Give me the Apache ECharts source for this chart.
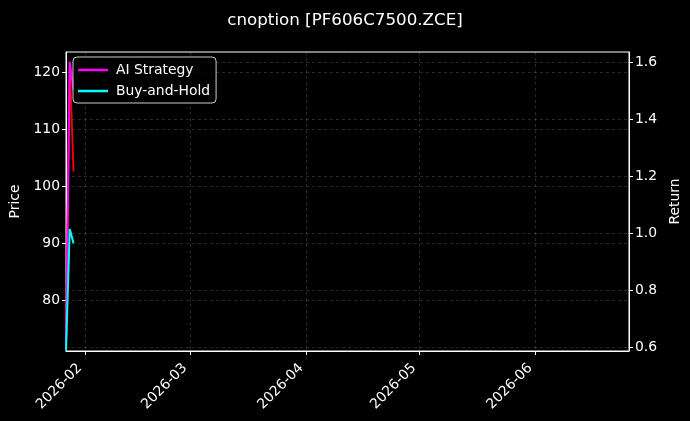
<!DOCTYPE html>
<html>
<head>
<meta charset="utf-8">
<script src="https://cdn.jsdelivr.net/npm/echarts@6/dist/echarts.min.js"></script>
<style>
html,body{margin:0;padding:0;background:#000;}
#c{width:690px;height:421px;}
</style>
</head>
<body>
<div id="c"></div>
<script>
// ---- data ----
const dates = ['2026-01-27', '2026-01-28', '2026-01-29'];
const price = [74.0, 121.8, 102.6];
const aiStrategy = [0.59, 1.60, 1.50];
const buyHold = [0.59, 1.015, 0.965];
const monthTickDates = ['2026-02-01', '2026-03-01', '2026-04-01', '2026-05-01', '2026-06-01'];
const monthTickLabels = ['2026-02', '2026-03', '2026-04', '2026-05', '2026-06'];
const priceTicks = [80, 90, 100, 110, 120];
const returnTicks = [0.6, 0.8, 1.0, 1.2, 1.4, 1.6];

function ts(s) { const p = s.split('-').map(Number); return Date.UTC(p[0], p[1] - 1, p[2]); }
const monthTickTs = monthTickDates.map(ts);
const labelMap = {};
monthTickTs.forEach((t, i) => { labelMap[t] = monthTickLabels[i]; });

const FONT = 'DejaVu Sans';
const chart = echarts.init(document.getElementById('c'), null, { renderer: 'canvas' });
const gridLine = { show: true, lineStyle: { color: 'rgba(255,255,255,0.2)', type: [3, 3], width: 0.8 } };

chart.setOption({
  backgroundColor: '#000',
  animation: false,
  title: {
    text: 'cnoption [PF606C7500.ZCE]',
    left: 'center', top: 7,
    textStyle: { color: '#fff', fontFamily: FONT, fontSize: 16.7, fontWeight: 'normal' }
  },
  grid: { left: 66, right: 61, top: 52, bottom: 70, show: true, borderColor: '#fff', borderWidth: 1, backgroundColor: 'transparent' },
  legend: {
    left: 73, top: 57, orient: 'vertical',
    data: ['AI Strategy', 'Buy-and-Hold'],
    icon: 'rect', itemWidth: 30, itemHeight: 2.5, itemGap: 7,
    padding: [6, 6, 5, 5],
    borderColor: '#ccc', borderWidth: 1, borderRadius: 4,
    backgroundColor: 'rgba(0,0,0,0.8)',
    textStyle: { color: '#fff', fontFamily: FONT, fontSize: 13.9, padding: [0, 0, 0, 3] }
  },
  xAxis: {
    type: 'value',
    min: ts('2026-01-27'), max: ts('2026-06-26'),
    axisLine: { show: true, lineStyle: { color: '#fff', width: 1 } },
    axisTick: { show: true, customValues: monthTickTs, length: 4, inside: false, lineStyle: { color: '#fff' } },
    axisLabel: {
      customValues: monthTickTs, rotate: 45, color: '#fff', fontFamily: FONT, fontSize: 13.9, margin: 10,
      padding: [0, 7, 0, 0],
      formatter: v => labelMap[v] || ''
    },
    splitLine: gridLine
  },
  yAxis: [
    {
      type: 'value', position: 'left', min: 71.2, max: 123.5,
      name: 'Price', nameLocation: 'middle', nameGap: 41,
      nameTextStyle: { color: '#fff', fontFamily: FONT, fontSize: 13.9 },
      axisLine: { show: true, lineStyle: { color: '#fff' } },
      axisTick: { show: true, customValues: priceTicks, length: 4, lineStyle: { color: '#fff' } },
      axisLabel: { customValues: priceTicks, color: '#fff', fontFamily: FONT, fontSize: 13.9, margin: 6 },
      splitLine: gridLine
    },
    {
      type: 'value', position: 'right', min: 0.588, max: 1.635,
      name: 'Return', nameLocation: 'middle', nameGap: 37,
      nameTextStyle: { color: '#fff', fontFamily: FONT, fontSize: 13.9 },
      axisLine: { show: true, lineStyle: { color: '#fff' } },
      axisTick: { show: true, customValues: returnTicks, length: 4, lineStyle: { color: '#fff' } },
      axisLabel: { customValues: returnTicks, color: '#fff', fontFamily: FONT, fontSize: 13.9, margin: 6,
        formatter: v => Number(v).toFixed(1) },
      splitLine: gridLine
    }
  ],
  series: [
    {
      name: 'Price', type: 'line', yAxisIndex: 0, showSymbol: false, z: 2,
      data: dates.map((d, i) => [ts(d), price[i]]),
      lineStyle: { color: '#ff0000', width: 1.8 }, itemStyle: { color: '#ff0000' }
    },
    {
      name: 'AI Strategy', type: 'line', yAxisIndex: 1, showSymbol: false, z: 3,
      data: dates.map((d, i) => [ts(d), aiStrategy[i]]),
      lineStyle: { color: '#ff00ff', width: 2 }, itemStyle: { color: '#ff00ff' }
    },
    {
      name: 'Buy-and-Hold', type: 'line', yAxisIndex: 1, showSymbol: false, z: 4,
      data: dates.map((d, i) => [ts(d), buyHold[i]]),
      lineStyle: { color: '#00ffff', width: 2 }, itemStyle: { color: '#00ffff' }
    }
  ]
});
</script>
</body>
</html>
